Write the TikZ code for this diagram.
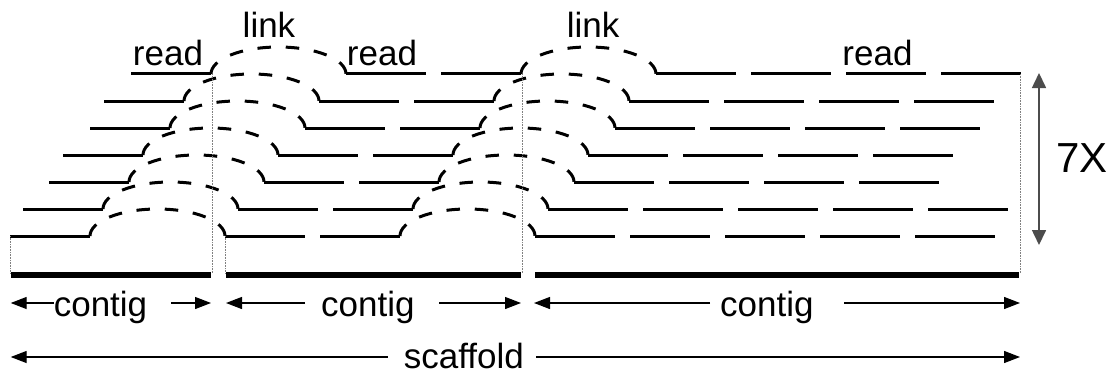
\documentclass[tikz,border=0pt]{standalone}
\usepackage{fontspec}
\setmainfont{Liberation Sans}
\usetikzlibrary{arrows.meta}
\begin{document}
\begin{tikzpicture}[x=1pt,y=1pt,
  readline/.style={line width=3pt},
  linkarc/.style={line width=3pt, dash pattern=on 13.5pt off 14.8pt},
  contigline/.style={line width=5.5pt},
  guide/.style={draw=gray, line width=0.8pt, dash pattern=on 0.8pt off 0.8pt},
  dimarrow/.style={line width=1.3pt, -{Triangle[length=16pt,width=12pt]}},
  covarrow/.style={draw=black!70, line width=1.6pt, {Triangle[length=15pt,width=14pt]}-{Triangle[length=15pt,width=14pt]}},
  lbl/.style={font=\fontsize{35}{40}\selectfont, inner sep=0pt},
  biglbl/.style={font=\fontsize{42}{48}\selectfont, inner sep=0pt}
]
\useasboundingbox (0,0) rectangle (1115,373);
% reads and links, one row per read copy
\foreach \s/\Y/\n in {131/299/4, 104/272/4, 90/245/4, 63/218/4, 49/191/4, 23/164/5, 10/137/5} {
  \draw[readline] (\s,\Y) -- ++(80,0);
  \draw[linkarc] ({\s+80},\Y) arc[start angle=180,end angle=0,x radius=67.5,y radius=27];
  \draw[readline] ({\s+215},\Y) -- ++(80,0);
  \draw[readline] ({\s+310},\Y) -- ++(80,0);
  \draw[linkarc] ({\s+390},\Y) arc[start angle=180,end angle=0,x radius=67.5,y radius=27];
  \foreach \k in {1,...,\n} {
    \draw[readline] ({\s+525+95*(\k-1)},\Y) -- ++(80,0);
  }
}
% guide lines
\draw[guide] (10,137) -- (10,100);
\draw[guide] (212,299) -- (212,100);
\draw[guide] (225,137) -- (225,100);
\draw[guide] (522,299) -- (522,100);
\draw[guide] (1020,299) -- (1020,100);
% contigs
\draw[contigline] (10.7,98) -- (211,98);
\draw[contigline] (226,98) -- (521,98);
\draw[contigline] (535,98) -- (1019,98);
% labels
\node[lbl, anchor=base] (read1) at (168,308) {read};
\node[lbl, anchor=base] (link1) at (269,335) {link};
\node[lbl, anchor=base] (read2) at (382,308) {read};
\node[lbl, anchor=base] (link2) at (593,335) {link};
\node[lbl, anchor=base] (read3) at (877.5,308) {read};
\node[biglbl, anchor=base] (cov) at (1082,201) {7X};
% coverage arrow
\coordinate (covtop) at (1039,300);
\coordinate (covbot) at (1039,128);
\draw[covarrow] (covtop) -- (covbot);
% contig arrows
\node[lbl, anchor=base west] (ct1) at (53.6,57) {contig};
\node[lbl, anchor=base west] (ct2) at (321,57) {contig};
\node[lbl, anchor=base west] (ct3) at (720,57) {contig};
\node[lbl, anchor=base west] (sc) at (403.6,5) {scaffold};
\coordinate (c1l) at (10.7,70);
\coordinate (c1a) at (ct1.west |- c1l);
\coordinate (c1b) at (171,70);
\coordinate (c1r) at (211,70);
\coordinate (c2l) at (226,70);
\coordinate (c2a) at (305,70);
\coordinate (c2b) at (439,70);
\coordinate (c2r) at (521,70);
\coordinate (c3l) at (534,70);
\coordinate (c3a) at (710,70);
\coordinate (c3b) at (844,70);
\coordinate (c3r) at (1020,70);
\coordinate (sl) at (10.7,16);
\coordinate (sa) at (387.5,16);
\coordinate (sb) at (536,16);
\coordinate (sr) at (1020,16);
\draw[dimarrow] (c1a) -- (c1l);
\draw[dimarrow] (c1b) -- (c1r);
\draw[dimarrow] (c2a) -- (c2l);
\draw[dimarrow] (c2b) -- (c2r);
\draw[dimarrow] (c3a) -- (c3l);
\draw[dimarrow] (c3b) -- (c3r);
\draw[dimarrow] (sa) -- (sl);
\draw[dimarrow] (sb) -- (sr);
\end{tikzpicture}
\end{document}
